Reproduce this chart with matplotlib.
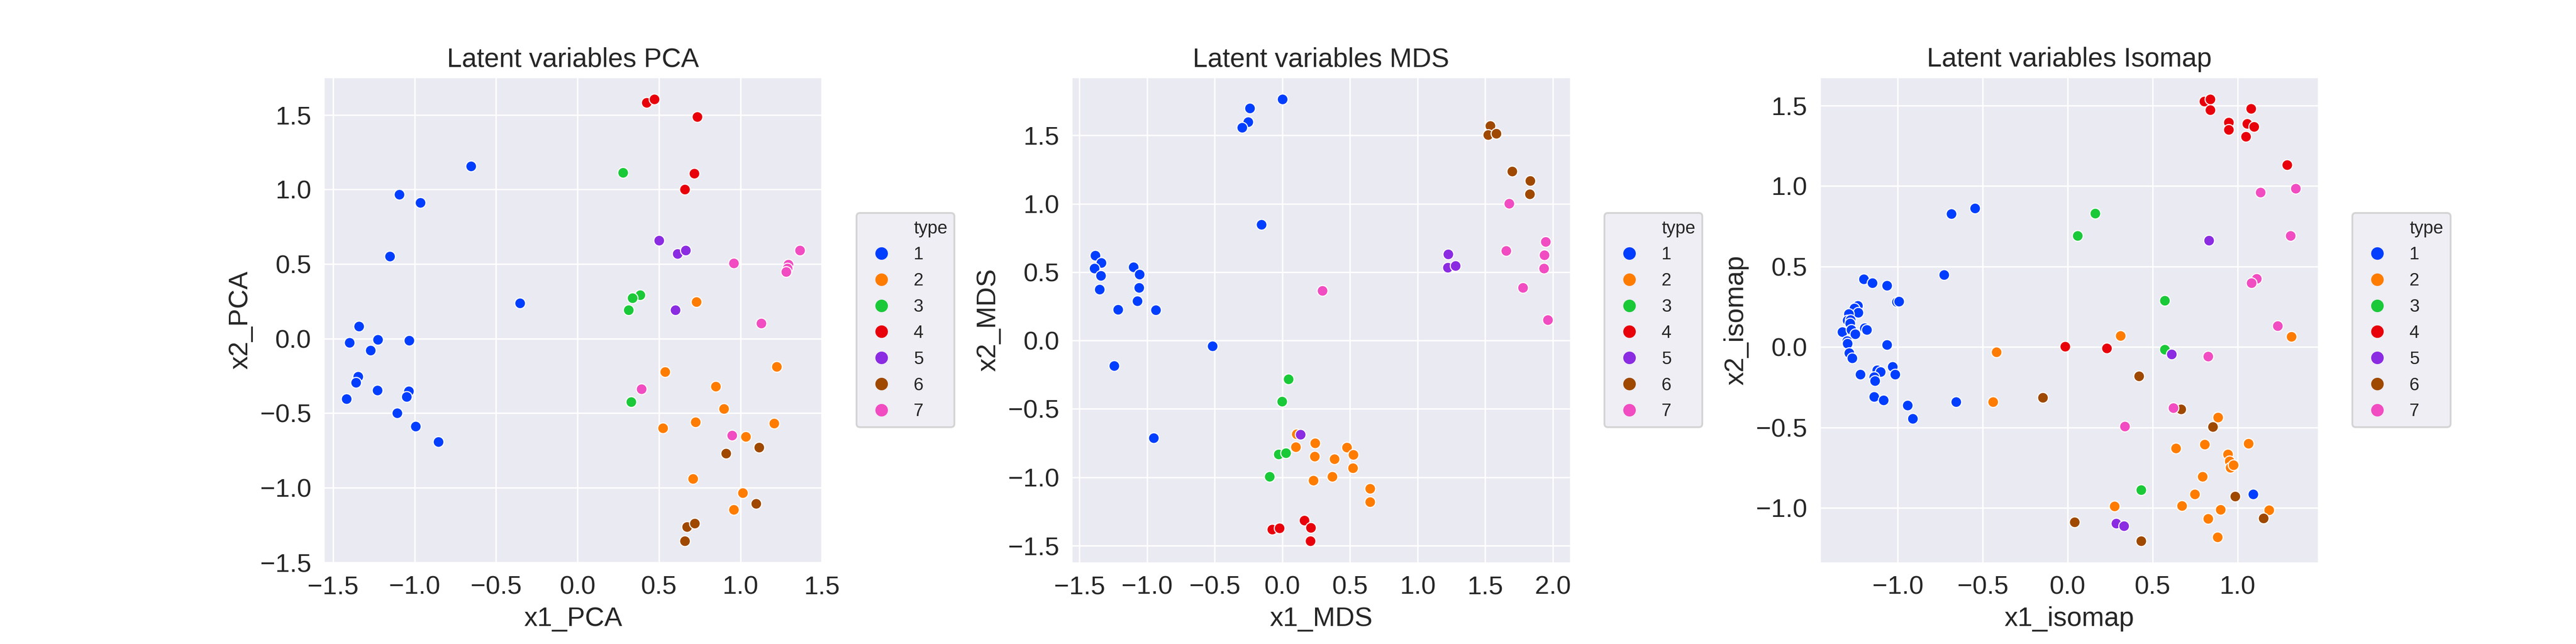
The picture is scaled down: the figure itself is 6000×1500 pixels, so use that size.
import matplotlib
matplotlib.use("Agg")
import matplotlib.pyplot as plt
from matplotlib.lines import Line2D
from matplotlib.ticker import MultipleLocator
import seaborn as sns

# latent variable coordinates, one inner list per type (1..7)
types = [1, 2, 3, 4, 5, 6, 7]

pca_x = [
    [-0.654, -1.093, -0.966, -1.152, -0.354, -1.342, -1.400, -1.226, -1.270, -1.032,
     -1.346, -1.359, -1.418, -1.229, -1.037, -1.049, -1.108, -0.993, -0.853],
    [0.730, 0.538, 0.848, 1.221, 0.897, 0.523, 0.725, 1.206, 1.032, 0.708, 1.015, 0.958],
    [0.280, 0.383, 0.337, 0.312, 0.329],
    [0.425, 0.472, 0.735, 0.717, 0.658],
    [0.499, 0.614, 0.663, 0.600],
    [0.912, 1.113, 1.096, 0.671, 0.720, 0.658],
    [0.958, 1.292, 1.287, 1.280, 1.364, 1.128, 0.391, 0.948],
]
pca_y = [
    [1.157, 0.965, 0.912, 0.551, 0.237, 0.084, -0.027, -0.007, -0.077, -0.011,
     -0.254, -0.294, -0.405, -0.345, -0.352, -0.389, -0.500, -0.588, -0.690],
    [0.246, -0.221, -0.319, -0.188, -0.471, -0.600, -0.560, -0.569, -0.657, -0.938, -1.035, -1.146],
    [1.113, 0.292, 0.272, 0.192, -0.423],
    [1.582, 1.604, 1.487, 1.108, 1.000],
    [0.659, 0.569, 0.591, 0.192],
    [-0.768, -0.728, -1.106, -1.261, -1.239, -1.355],
    [0.507, 0.496, 0.471, 0.447, 0.591, 0.102, -0.338, -0.648],
]

mds_x = [
    [0.000, -0.242, -0.254, -0.298, -0.156, -1.383, -1.339, -1.389, -1.342, -1.351,
     -1.100, -1.056, -1.059, -1.071, -1.215, -0.935, -0.516, -1.245, -0.950],
    [0.106, 0.242, 0.100, 0.478, 0.525, 0.239, 0.386, 0.522, 0.230, 0.369, 0.649, 0.649],
    [0.044, -0.003, -0.029, 0.027, -0.094],
    [-0.077, -0.021, 0.162, 0.209, 0.206],
    [1.227, 1.224, 1.280, 0.133],
    [1.537, 1.522, 1.581, 1.699, 1.832, 1.829],
    [1.676, 1.655, 1.947, 1.938, 1.932, 1.779, 1.962, 0.295],
]
mds_y = [
    [1.763, 1.698, 1.599, 1.556, 0.848, 0.623, 0.568, 0.527, 0.473, 0.374,
     0.536, 0.483, 0.386, 0.290, 0.227, 0.222, -0.039, -0.184, -0.713],
    [-0.684, -0.751, -0.778, -0.780, -0.836, -0.848, -0.865, -0.932, -1.024, -0.995, -1.082, -1.179],
    [-0.283, -0.444, -0.831, -0.821, -0.993],
    [-1.379, -1.370, -1.314, -1.367, -1.464],
    [0.630, 0.534, 0.546, -0.688],
    [1.570, 1.505, 1.514, 1.237, 1.169, 1.070],
    [1.002, 0.655, 0.722, 0.626, 0.529, 0.386, 0.152, 0.365],
]

iso_x = [
    [-0.546, -0.684, -0.728, -1.201, -1.150, -1.063, -1.007, -0.994, -1.235, -1.257,
     -1.234, -1.288, -1.297, -1.280, -1.282, -1.195, -1.182, -1.326, -1.275, -1.250,
     -1.299, -1.297, -1.065, -1.286, -1.269, -1.220, -1.123, -1.103, -1.140, -1.136,
     -1.031, -1.017, -1.140, -1.085, -0.942, -0.658, -0.912, 1.091],
    [0.312, 1.316, -0.419, -0.439, 0.884, 0.806, 0.636, 1.064, 0.944, 0.953,
     0.957, 0.976, 0.794, 0.748, 0.673, 0.901, 1.187, 0.827, 0.882, 0.276],
    [0.163, 0.058, 0.571, 0.571, 0.433],
    [0.803, 0.839, 0.839, 0.949, 0.949, 1.057, 1.098, 1.048, 1.079, 1.291, -0.014, 0.229],
    [0.833, 0.612, 0.287, 0.331],
    [0.419, -0.146, 0.667, 0.854, 0.986, 1.154, 0.041, 0.433],
    [1.134, 1.343, 1.313, 1.112, 1.081, 1.236, 0.828, 0.622, 0.337],
]
iso_y = [
    [0.862, 0.827, 0.448, 0.422, 0.397, 0.381, 0.282, 0.284, 0.257, 0.241,
     0.214, 0.207, 0.167, 0.168, 0.148, 0.119, 0.108, 0.095, 0.108, 0.081,
     0.039, 0.023, 0.014, -0.036, -0.068, -0.171, -0.144, -0.153, -0.185, -0.209,
     -0.122, -0.171, -0.309, -0.331, -0.361, -0.342, -0.444, -0.915],
    [0.070, 0.064, -0.031, -0.342, -0.437, -0.604, -0.630, -0.600, -0.666, -0.708,
     -0.750, -0.732, -0.806, -0.913, -0.987, -1.010, -1.014, -1.067, -1.180, -0.988],
    [0.831, 0.693, 0.290, -0.016, -0.888],
    [1.527, 1.539, 1.473, 1.397, 1.350, 1.387, 1.370, 1.309, 1.481, 1.132, 0.004, -0.006],
    [0.663, -0.045, -1.095, -1.111],
    [-0.181, -0.313, -0.387, -0.496, -0.928, -1.065, -1.088, -1.204],
    [0.961, 0.986, 0.693, 0.426, 0.399, 0.132, -0.058, -0.379, -0.494],
]

panels = [
    ("PCA", "x1_PCA", "x2_PCA", pca_x, pca_y),
    ("MDS", "x1_MDS", "x2_MDS", mds_x, mds_y),
    ("Isomap", "x1_isomap", "x2_isomap", iso_x, iso_y),
]

sns.set_style("darkgrid")
plt.rcParams['font.family'] = ['Liberation Sans', 'DejaVu Sans']
colors = sns.color_palette("bright", len(types))

fig, axes = plt.subplots(1, 3, figsize=(20, 5), dpi=300)
fig.subplots_adjust(left=0.1257, right=0.9, top=0.88, bottom=0.126, wspace=0.5)

for ax, (name, xlab, ylab, xs, ys) in zip(axes, panels):
    for i, t in enumerate(types):
        ax.scatter(xs[i], ys[i], s=36, color=colors[i], edgecolor='white', linewidth=0.6, zorder=3)
    ax.set_title("Latent variables " + name, fontsize=15)
    ax.set_xlabel(xlab, fontsize=15)
    ax.set_ylabel(ylab, fontsize=15)
    ax.tick_params(labelsize=14.5)
    ax.xaxis.set_major_locator(MultipleLocator(0.5))
    ax.yaxis.set_major_locator(MultipleLocator(0.5))

    # legend in the old seaborn style: title as the first row
    handles = [Line2D([], [], linestyle='none')]
    labels = ["type"]
    for i, t in enumerate(types):
        handles.append(Line2D([], [], marker='o', linestyle='none', color=colors[i],
                              markersize=7, markeredgewidth=0))
        labels.append(str(t))
    ax.legend(handles, labels, loc='center left', bbox_to_anchor=(1.05, 0.5),
              fontsize=10, labelspacing=0.5)

plt.savefig("out.png", dpi=300)
